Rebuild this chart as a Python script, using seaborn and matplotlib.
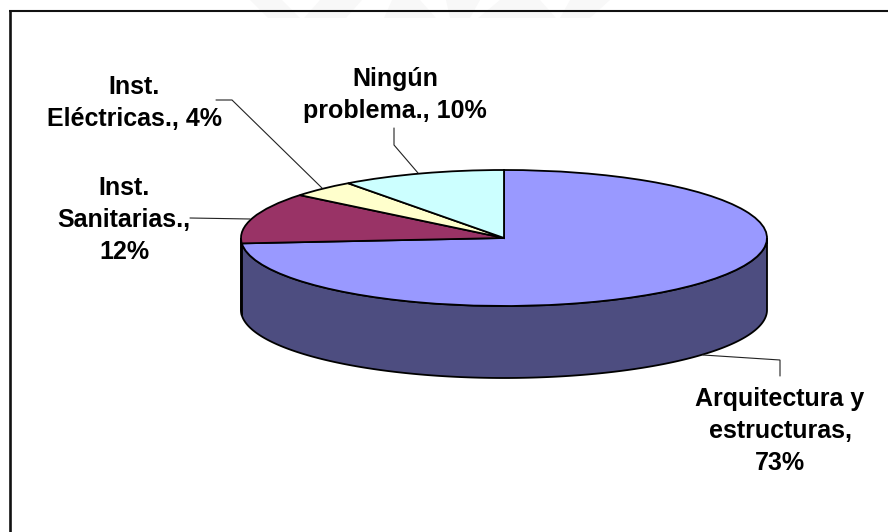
import numpy as np
import matplotlib
matplotlib.use("Agg")
import matplotlib.pyplot as plt
from matplotlib.patches import Polygon
import seaborn as sns

sns.set_theme(style="white")
plt.rcParams["font.family"] = ["Liberation Sans", "DejaVu Sans"]

# Survey shares, clockwise from twelve o'clock
categories = ["Arquitectura y\nestructuras,\n73%", "Inst.\nSanitarias.,\n12%",
              "Inst.\nEléctricas., 4%", "Ningún\nproblema., 10%"]
shares = [73, 12, 4, 10]
top_colors = sns.color_palette(["#9999FF", "#993366", "#FFFFCC", "#CCFFFF"])
wall_colors = sns.color_palette(["#4D4D80", "#4D1A33", "#80806A", "#6A8080"])

WIDTH, HEIGHT = 888, 532
CX, CY, RX, RY, DEPTH = 504, 238, 263, 68, 72

fig = plt.figure(figsize=(WIDTH / 100, HEIGHT / 100), dpi=100, facecolor="white")

# Pie axes: one data unit equals the radius horizontally and the squashed radius vertically
pie_ax = fig.add_axes([0, 0, 1, 1], zorder=1)
pie_ax.pie(shares, colors=top_colors, startangle=90, counterclock=False,
           wedgeprops=dict(edgecolor="black", linewidth=1.3, zorder=3))
pie_ax.set_aspect("auto")
pie_ax.set_xlim(-CX / RX, (WIDTH - CX) / RX)
pie_ax.set_ylim((CY - HEIGHT) / RY, CY / RY)
pie_ax.axis("off")

# Cylinder wall: only the part of each slice facing the viewer (-180 to 0 degrees)
drop = DEPTH / RY
edges = 90 - np.cumsum([0] + shares) / sum(shares) * 360
for start, end, color in zip(edges[:-1], edges[1:], wall_colors):
    lo, hi = max(end, -180), min(start, 0)
    if lo >= hi:
        continue
    t = np.radians(np.linspace(lo, hi, 200))
    xs = np.cos(t)
    ys = np.sin(t)
    outline = np.r_[np.c_[xs, ys], np.c_[xs, ys - drop][::-1]]
    pie_ax.add_patch(Polygon(outline, closed=True, facecolor=color,
                             edgecolor="black", linewidth=1.3, zorder=2))

# Overlay in pixel units for the frame, leader lines and labels
ann = fig.add_axes([0, 0, 1, 1], zorder=2)
ann.set_xlim(0, WIDTH)
ann.set_ylim(HEIGHT, 0)
ann.patch.set_alpha(0)
ann.axis("off")

# Faint emblem showing along the top edge
for pts in ([(250, 0), (282, 0), (300, 18), (268, 18)],
            [(320, 0), (362, 0), (346, 18), (304, 18)],
            [(392, 0), (420, 0), (436, 18), (384, 18)],
            [(446, 0), (480, 0), (470, 18), (450, 18)],
            [(500, 0), (540, 0), (556, 18), (478, 18)],
            [(570, 0), (610, 0), (590, 18), (560, 18)]):
    ann.add_patch(Polygon(pts, closed=True, facecolor="#f8f8f8", edgecolor="none", zorder=0))

ann.plot([10, 10], [11, HEIGHT], color="#111111", lw=1.9, solid_capstyle="butt")
ann.plot([9, WIDTH], [11, 11], color="#111111", lw=1.5, solid_capstyle="butt")

leaders = [([703, 780, 780], [355, 360, 376]),
           ([190, 250], [218, 219]),
           ([216, 232, 322], [100, 100, 188]),
           ([394, 394, 418], [128, 145, 173])]
for lx, ly in leaders:
    ann.plot(lx, ly, color="#222222", lw=0.8, solid_joinstyle="miter")

label_pos = [(780, 431), (124, 220), (134, 103), (395, 95)]
for text, (tx, ty) in zip(categories, label_pos):
    ann.text(tx, ty, text, ha="center", va="center", fontsize=18, fontweight="bold",
             color="black", linespacing=1.4)

fig.savefig("out.png", dpi=100)
